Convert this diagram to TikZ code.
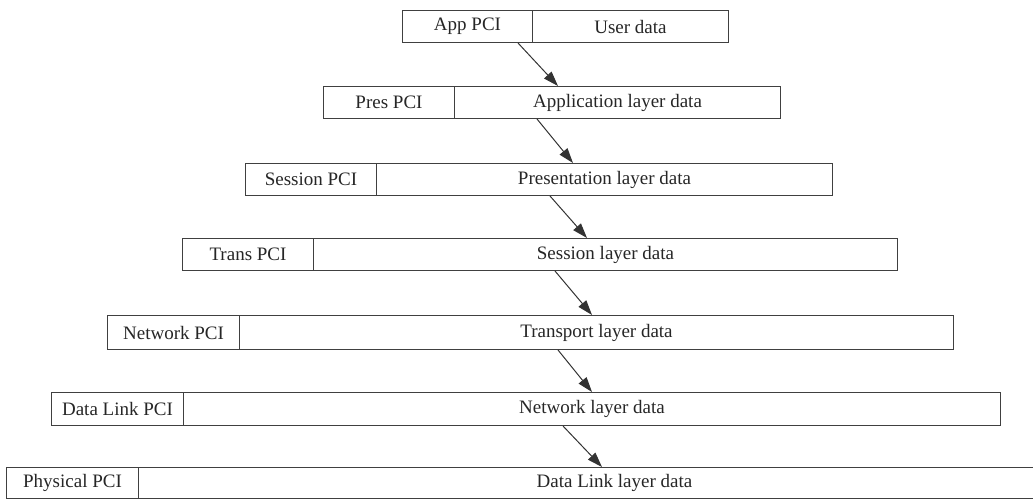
\documentclass[tikz,border=0pt]{standalone}
\usepackage{fontspec}
\setmainfont{Liberation Serif}
\usetikzlibrary{arrows.meta}
\tikzset{
	pdu/.style={draw=black!75, line width=1pt, rectangle, anchor=north west, inner sep=0pt,
		minimum height=32pt, text=black!85, font=\fontsize{19}{21}\selectfont},
	down/.style={draw=black!80, line width=1pt, -{Triangle[length=15pt,width=10pt]}}
}

\begin{document}
\begin{tikzpicture}[x=1pt, y=-1pt]
		%%%%% START %%%%%
		\useasboundingbox (0, 0) rectangle (1033, 499);
		
		\node[pdu, minimum width=130pt] (pci1) at (402, 10) {App PCI};
		\node[pdu, minimum width=196pt] (dat1) at (532, 10) {User data};
		
		\node[pdu, minimum width=131pt] (pci2) at (323, 86) {Pres PCI};
		\node[pdu, minimum width=326pt] (dat2) at (454, 86) {Application layer data};
		
		\node[pdu, minimum width=131pt] (pci3) at (245, 163) {Session PCI};
		\node[pdu, minimum width=456pt] (dat3) at (376, 163) {Presentation layer data};
		
		\node[pdu, minimum width=131pt] (pci4) at (182, 238) {Trans PCI};
		\node[pdu, minimum width=584pt] (dat4) at (313, 238) {Session layer data};
		
		\node[pdu, minimum width=132pt, minimum height=34pt] (pci5) at (107, 315) {Network PCI};
		\node[pdu, minimum width=714pt, minimum height=34pt] (dat5) at (239, 315) {Transport layer data};
		
		\node[pdu, minimum width=132pt, minimum height=33pt] (pci6) at (51, 392) {Data Link PCI};
		\node[pdu, minimum width=817pt, minimum height=33pt] (dat6) at (183, 392) {Network layer data};
		
		\node[pdu, minimum width=132pt, minimum height=31pt] (pci7) at (6, 467) {Physical PCI};
		\node[pdu, minimum width=952pt, minimum height=31pt] (dat7) at (138, 467) {Data Link layer data};
		
		\draw[down] (dat1.south -| 518, 0) -- (dat2.north -| 558, 0);
		\draw[down] (dat2.south -| 537, 0) -- (dat3.north -| 573, 0);
		\draw[down] (dat3.south -| 550, 0) -- (dat4.north -| 587, 0);
		\draw[down] (dat4.south -| 555, 0) -- (dat5.north -| 592, 0);
		\draw[down] (dat5.south -| 558, 0) -- (dat6.north -| 592, 0);
		\draw[down] (dat6.south -| 563, 0) -- (dat7.north -| 602, 0);
		
		%%%%% END %%%%%
	\end{tikzpicture}
\end{document}
